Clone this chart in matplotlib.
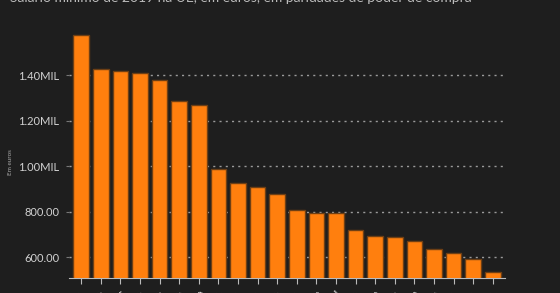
import numpy as np
import matplotlib
matplotlib.use('Agg')
import matplotlib.pyplot as plt
from matplotlib.ticker import FuncFormatter

# minimum wage 2019, euros in purchasing power
paises = ['Luxemburgo', 'Alemanha', 'Países Baixos', 'Bélgica', 'França',
          'Irlanda', 'Reino Unido', 'Eslovénia', 'Espanha', 'Polónia',
          'Malta', 'Lituânia', 'Grécia', 'Portugal', 'Roménia', 'Croácia',
          'Hungria', 'Chéquia', 'Estónia', 'Eslováquia', 'Letónia', 'Bulgária']
valores = [1574, 1426, 1419, 1410, 1377, 1286, 1268, 986, 928, 907,
           877, 810, 796, 793, 720, 692, 688, 671, 636, 618, 592, 536]
yticks = [600, 800, 1000, 1200, 1400]

titulo = 'Salário mínimo de 2019 na UE, em euros, em paridades de poder de compra'

plt.rcParams['font.family'] = ['Lato', 'DejaVu Sans']

bg = '#1e1e1e'
fg = '#d2d2d2'

def fmt(v, pos):
    if v >= 1000:
        return '%.2fMIL' % (v / 1000.0)
    return '%.2f' % v

fig = plt.figure(figsize=(5.6, 2.93), dpi=100, facecolor=bg)
ax = fig.add_axes([69/560., 1 - 278/293., (505-69)/560., 278/293.])
ax.set_facecolor(bg)

x = np.arange(len(valores))
ax.bar(x, valores, width=0.8, color='#ff7f0e', edgecolor='#6e3f14',
       linewidth=1.0, zorder=3)

ax.set_ylim(510, 1729)
ax.set_xlim(-0.62, len(valores) - 0.38)
ax.set_yticks(yticks)
ax.yaxis.set_major_formatter(FuncFormatter(fmt))
ax.grid(axis='y', color='#9a9a9a', linestyle=(0, (1.5, 3)), linewidth=1.0, zorder=1)

ax.set_xticks(x)
ax.set_xticklabels(paises, rotation=45, ha='right', rotation_mode='anchor',
                   fontsize=9, color=fg)
ax.tick_params(axis='x', length=4, color='#bbbbbb', pad=3)
ax.tick_params(axis='y', length=2, color='#777777', labelsize=8,
               labelcolor=fg, pad=5)

for s in ['top', 'right', 'left']:
    ax.spines[s].set_visible(False)
ax.spines['bottom'].set_color('#bbbbbb')

fig.text(11/560., 1 - 162/293., 'Em euros', fontsize=4.5, color='#aaaaaa',
         rotation=90, ha='center', va='center')

fig.text(10/560., 1 - 2/293., titulo, fontsize=10, color='#bbbbbb',
         ha='left', va='baseline')

plt.savefig('out.png', dpi=100, facecolor=bg)
